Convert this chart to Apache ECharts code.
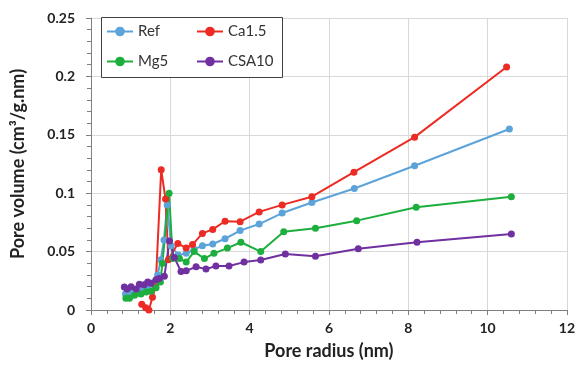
<!DOCTYPE html>
<html>
<head>
<meta charset="utf-8">
<script src="https://cdn.jsdelivr.net/npm/echarts@6/dist/echarts.min.js"></script>
<style>html,body{margin:0;padding:0;background:#fff}#c{width:578px;height:369px}</style>
</head>
<body>
<div id="c"></div>
<script>
const seriesNames = ['Ref', 'Ca1.5', 'Mg5', 'CSA10'];
const xTicks = [0, 2, 4, 6, 8, 10, 12];
const yTicks = [0, 0.05, 0.1, 0.15, 0.2, 0.25];

const refX = [0.87,0.95,1.03,1.1,1.18,1.26,1.35,1.43,1.52,1.6,1.68,1.76,1.84,1.92,2.02,2.2,2.4,2.6,2.81,3.07,3.38,3.76,4.24,4.82,5.57,6.64,8.16,10.55];
const refY = [0.014,0.013,0.015,0.016,0.017,0.019,0.02,0.021,0.022,0.024,0.03,0.043,0.06,0.09,0.055,0.047,0.0485,0.052,0.055,0.0565,0.061,0.068,0.0736,0.083,0.092,0.104,0.1235,0.155];

const caX = [1.28,1.38,1.46,1.55,1.63,1.77,1.88,1.95,2.19,2.4,2.56,2.81,3.07,3.38,3.76,4.24,4.82,5.57,6.63,8.16,10.48];
const caY = [0.005,0.002,0.0,0.011,0.02,0.12,0.095,0.043,0.057,0.053,0.056,0.0656,0.069,0.076,0.0756,0.084,0.09,0.097,0.118,0.148,0.208];

const mgX = [0.88,0.97,1.1,1.26,1.39,1.51,1.64,1.75,1.8,1.97,2.06,2.23,2.4,2.6,2.86,3.1,3.44,3.78,4.28,4.86,5.66,6.7,8.2,10.6];
const mgY = [0.01,0.01,0.0126,0.0137,0.0154,0.016,0.019,0.024,0.04,0.1,0.044,0.044,0.041,0.05,0.044,0.0485,0.053,0.058,0.05,0.067,0.07,0.0765,0.088,0.097];

const csaX = [0.84,0.91,1.01,1.14,1.22,1.34,1.43,1.51,1.64,1.72,1.85,1.98,2.1,2.27,2.4,2.65,2.9,3.15,3.48,3.86,4.28,4.9,5.66,6.74,8.22,10.6];
const csaY = [0.0197,0.018,0.02,0.018,0.022,0.0216,0.024,0.023,0.026,0.027,0.029,0.059,0.045,0.033,0.0335,0.037,0.035,0.0377,0.0377,0.041,0.0428,0.048,0.046,0.0525,0.058,0.065];

const colors = ['#5BA3D9', '#EC2B24', '#1DAF3E', '#7030A0'];
const FONT = 'Lato';

function pairs(xs, ys) { return xs.map((x, i) => [x, ys[i]]); }
const allData = [pairs(refX, refY), pairs(caX, caY), pairs(mgX, mgY), pairs(csaX, csaY)];

const chart = echarts.init(document.getElementById('c'), null, {renderer: 'canvas'});

const legendPos = [[106, 24], [196, 24], [106, 54], [196, 54]];
const legends = seriesNames.map((n, i) => ({
  data: [n], left: legendPos[i][0], top: legendPos[i][1],
  itemWidth: 26, itemHeight: 12, itemGap: 4,
  textStyle: {fontFamily: FONT, fontSize: 15, color: '#333'},
  padding: 0, z: 110
}));

chart.setOption({
  animation: false,
  color: colors,
  grid: {left: 91, right: 8, top: 18, bottom: 59, containLabel: false},
  graphic: [{
    type: 'rect', z: 100, silent: true,
    shape: {x: 101.5, y: 17.5, width: 181, height: 60},
    style: {fill: '#fff', stroke: '#404040', lineWidth: 1}
  }],
  legend: legends,
  xAxis: {
    type: 'value', min: xTicks[0], max: xTicks[xTicks.length - 1], interval: 2,
    name: 'Pore radius (nm)', nameLocation: 'middle', nameGap: 32,
    nameTextStyle: {fontFamily: FONT, fontWeight: 'bold', fontSize: 18, color: '#222'},
    axisLine: {lineStyle: {color: '#7f7f7f', width: 1}},
    axisTick: {show: true, length: 5, lineStyle: {color: '#7f7f7f'}},
    minorTick: {show: true, splitNumber: 5, length: 4, lineStyle: {color: '#7f7f7f'}},
    axisLabel: {fontFamily: FONT, fontWeight: 'bold', fontSize: 14, color: '#222', margin: 11},
    splitLine: {show: true, lineStyle: {color: '#d9d9d9', width: 1}}
  },
  yAxis: {
    type: 'value', min: yTicks[0], max: yTicks[yTicks.length - 1], interval: 0.05,
    name: 'Pore volume (cm\u00B3/g.nm)', nameLocation: 'middle', nameGap: 64, nameRotate: 90,
    nameTextStyle: {fontFamily: FONT, fontWeight: 'bold', fontSize: 18, color: '#222'},
    axisLine: {show: true, lineStyle: {color: '#7f7f7f', width: 1}},
    axisTick: {show: true, length: 5, lineStyle: {color: '#7f7f7f'}},
    minorTick: {show: true, splitNumber: 5, length: 4, lineStyle: {color: '#7f7f7f'}},
    axisLabel: {fontFamily: FONT, fontWeight: 'bold', fontSize: 14, color: '#222', margin: 16},
    splitLine: {show: true, lineStyle: {color: '#d9d9d9', width: 1}}
  },
  series: seriesNames.map((n, i) => ({
    name: n, type: 'line', data: allData[i],
    symbol: 'circle', symbolSize: 7,
    lineStyle: {width: 2, color: colors[i]},
    itemStyle: {color: colors[i]},
    clip: false
  }))
});
</script>
</body>
</html>
